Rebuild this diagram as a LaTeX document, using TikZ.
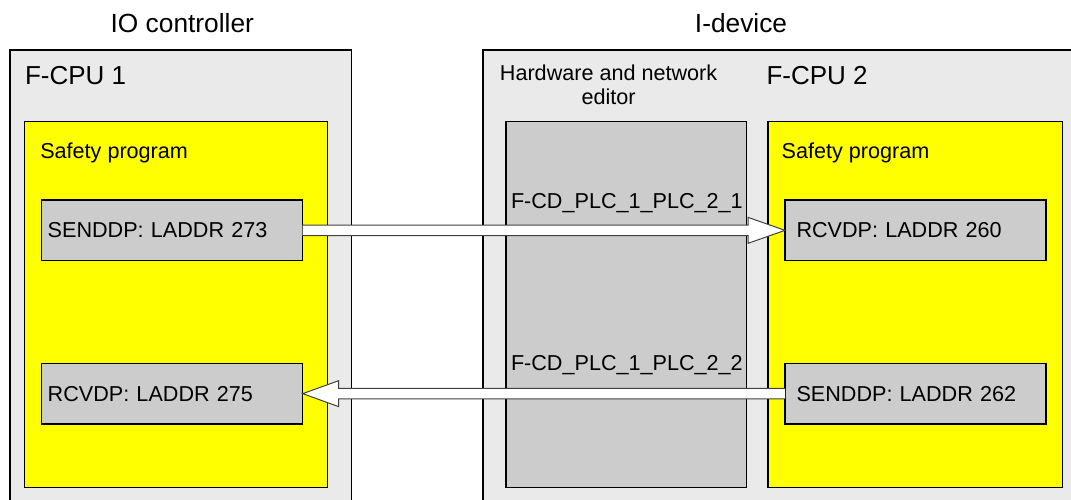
\documentclass[tikz,border=0pt]{standalone}
\usepackage{fontspec}
\setmainfont{Liberation Sans}
\begin{document}
\begin{tikzpicture}[x=1pt,y=-1pt,
  every node/.style={inner sep=0pt, outer sep=0pt},
  outerbox/.style={draw=black, line width=1.3pt, fill=outergray, anchor=north west},
  yellowbox/.style={draw=black, line width=1.3pt, fill=safeyellow, anchor=north west},
  hwbox/.style={draw=black, line width=1.3pt, fill=boxgray, anchor=north west},
  blockbox/.style={draw=black, line width=1.3pt, fill=boxgray, anchor=north west,
    minimum height=60.7pt, text width=249pt, inner xsep=6pt, align=left,
    font=\fontsize{21.6}{24}\selectfont},
  rightblock/.style={blockbox, text width=238pt, inner xsep=11.5pt},
  titletext/.style={anchor=base, font=\fontsize{26.3}{30}\selectfont},
  cputext/.style={anchor=base west, font=\fontsize{26}{30}\selectfont},
  bodytext/.style={anchor=base west, font=\fontsize{21.6}{24}\selectfont},
  bigarrow/.style={draw=black!75, line width=1pt, fill=white, line join=miter}
]
\definecolor{outergray}{HTML}{EAEAEA}
\definecolor{safeyellow}{HTML}{FFFF00}
\definecolor{boxgray}{HTML}{CCCCCC}
\useasboundingbox (0,0) rectangle (1071,500);
\clip (0,0) rectangle (1071,500);
\fill[white] (0,0) rectangle (1071,500);

% titles
\node[titletext] (t1) at (182.3,32.3) {IO controller};
\node[titletext] (t2) at (741,33) {I-device};

% outer boxes
\node[outerbox, minimum width=341.7pt, minimum height=480pt] (cpu1) at (10,50) {};
\node[outerbox, minimum width=620pt, minimum height=480pt] (cpu2) at (483,50) {};
\node[cputext] (cpu1l) at (25,85) {F-CPU 1};
\node[cputext] (cpu2l) at (766.5,85) {F-CPU 2};

% hardware and network editor
\node[anchor=north, align=center, font=\fontsize{21.6}{24}\selectfont] (hwl) at (608.6,65.2) {Hardware and network\\editor};
\node[hwbox, minimum width=240.7pt, minimum height=366pt] (hw) at (506,121.7) {};
\node[bodytext] (fcd1) at (511,208) {F-CD\_PLC\_1\_PLC\_2\_1};
\node[bodytext] (fcd2) at (511,370.7) {F-CD\_PLC\_1\_PLC\_2\_2};

% safety programs
\node[yellowbox, minimum width=303.2pt, minimum height=366pt] (sp1) at (24.5,121.7) {};
\node[yellowbox, minimum width=294.5pt, minimum height=366pt] (sp2) at (768,121.7) {};
\node[bodytext] (sp1l) at (40.3,159) {Safety program};
\node[bodytext] (sp2l) at (781.7,159) {Safety program};

% blocks
\node[blockbox] (send1) at (41.7,200) {SENDDP: LADDR 273};
\node[blockbox] (rcv1) at (41.7,363.3) {RCVDP: LADDR 275};
\node[rightblock] (rcv2) at (785,200) {RCVDP: LADDR 260};
\node[rightblock] (send2) at (785,363.3) {SENDDP: LADDR 262};

% arrows
\draw[bigarrow] ([yshift=5.2pt]send1.east) -- ([xshift=-37pt,yshift=5.2pt]rcv2.west)
  -- ([xshift=-37pt,yshift=13pt]rcv2.west) -- (rcv2.west)
  -- ([xshift=-37pt,yshift=-13pt]rcv2.west) -- ([xshift=-37pt,yshift=-5.2pt]rcv2.west)
  -- ([yshift=-5.2pt]send1.east);
\draw[bigarrow] ([yshift=5.2pt]send2.west) -- ([xshift=36pt,yshift=5.2pt]rcv1.east)
  -- ([xshift=36pt,yshift=13pt]rcv1.east) -- (rcv1.east)
  -- ([xshift=36pt,yshift=-13pt]rcv1.east) -- ([xshift=36pt,yshift=-5.2pt]rcv1.east)
  -- ([yshift=-5.2pt]send2.west);
\end{tikzpicture}
\end{document}
